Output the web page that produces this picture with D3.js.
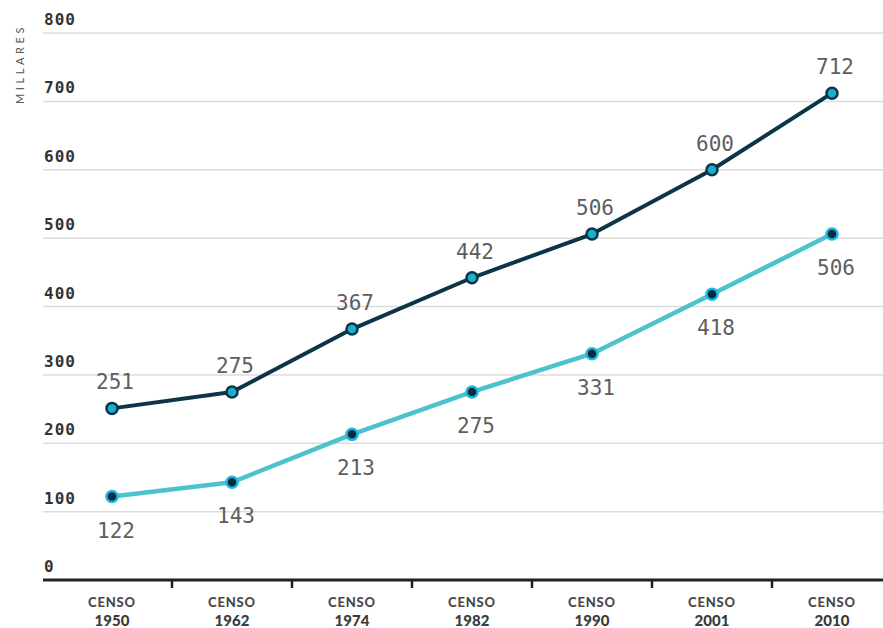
<!DOCTYPE html>
<html><head><meta charset="utf-8">
<script src="https://cdn.jsdelivr.net/npm/d3@7"></script>
<style>body{margin:0;background:#fff}svg{display:block}</style>
</head><body>
<svg id="c" width="883" height="628"></svg>
<script>
const categories = ["1950","1962","1974","1982","1990","2001","2010"];
const totalValues = [251,275,367,442,506,600,712];
const otherValues = [122,143,213,275,331,418,506];
const yTicks = [0,100,200,300,400,500,600,700,800];
const axisTitle = "MILLARES";
const catPrefix = "CENSO";

const svg = d3.select("#c");
const x = d3.scaleBand().domain(categories).range([52,892]).padding(0);
const y = d3.scaleLinear().domain([0,800]).range([580,33]);
const cx = d => x(d) + x.bandwidth()/2;

// gridlines
svg.append("g").selectAll("line").data(yTicks.filter(t=>t>0)).join("line")
  .attr("x1",43).attr("x2",883).attr("y1",d=>y(d)).attr("y2",d=>y(d))
  .attr("stroke","#dcdcdc").attr("stroke-width",1.5);

// y tick labels (above gridlines)
svg.append("g").selectAll("text").data(yTicks).join("text")
  .attr("x",44).attr("y",d=>y(d)-8)
  .attr("font-family","DejaVu Sans Mono").attr("font-weight","bold")
  .attr("font-size",16).attr("letter-spacing",1).attr("fill","#333").text(d=>d);

// axis title
svg.append("text").attr("transform","translate(24,104) rotate(-90)")
  .attr("font-family","Lato, sans-serif").attr("font-size",11)
  .attr("letter-spacing",3.6).attr("fill","#555").text(axisTitle);

// x axis
const xa = svg.append("g").attr("transform","translate(0,580)");
xa.append("line").attr("x1",43).attr("x2",883).attr("stroke","#222").attr("stroke-width",3);
xa.selectAll("line.tk").data(categories.slice(1)).join("line").attr("class","tk")
  .attr("x1",d=>x(d)).attr("x2",d=>x(d)).attr("y1",0).attr("y2",8)
  .attr("stroke","#222").attr("stroke-width",2.5);
const xl = xa.selectAll("g.lb").data(categories).join("g").attr("class","lb")
  .attr("transform",d=>`translate(${cx(d)},0)`);
xl.append("text").attr("y",27).attr("text-anchor","middle")
  .attr("font-family","Lato, sans-serif").attr("font-weight","900").attr("font-size",13)
  .attr("letter-spacing",0.8).attr("fill","#4a4a4a").text(catPrefix);
xl.append("text").attr("y",46).attr("text-anchor","middle")
  .attr("font-family","Lato, sans-serif").attr("font-weight","900").attr("font-size",15)
  .attr("fill","#3a3a3a").text(d=>d);

const line = d3.line().x((d,i)=>cx(categories[i])).y(d=>y(d));

// lower series
svg.append("path").datum(otherValues).attr("d",line).attr("fill","none")
  .attr("stroke","#4cc3cc").attr("stroke-width",4.5).attr("stroke-linejoin","round");
svg.append("g").selectAll("circle").data(otherValues).join("circle")
  .attr("cx",(d,i)=>cx(categories[i])).attr("cy",d=>y(d)).attr("r",5.5)
  .attr("fill","#0b2b3a").attr("stroke","#17b6e3").attr("stroke-width",2.5);

// upper series
svg.append("path").datum(totalValues).attr("d",line).attr("fill","none")
  .attr("stroke","#0c3547").attr("stroke-width",4).attr("stroke-linejoin","round");
svg.append("g").selectAll("circle").data(totalValues).join("circle")
  .attr("cx",(d,i)=>cx(categories[i])).attr("cy",d=>y(d)).attr("r",5.5)
  .attr("fill","#1aafd2").attr("stroke","#0c3547").attr("stroke-width",2.5);

// labels
const lblStyle = s => s.attr("text-anchor","middle").attr("font-family","DejaVu Sans Mono")
  .attr("font-size",21).attr("fill","#5e5e5e");
svg.append("g").selectAll("text").data(totalValues).join("text")
  .attr("x",(d,i)=>cx(categories[i])+3).attr("y",d=>y(d)-19).call(lblStyle).text(d=>d);
svg.append("g").selectAll("text").data(otherValues).join("text")
  .attr("x",(d,i)=>cx(categories[i])+4).attr("y",d=>y(d)+41).call(lblStyle).text(d=>d);
</script>
</body></html>
